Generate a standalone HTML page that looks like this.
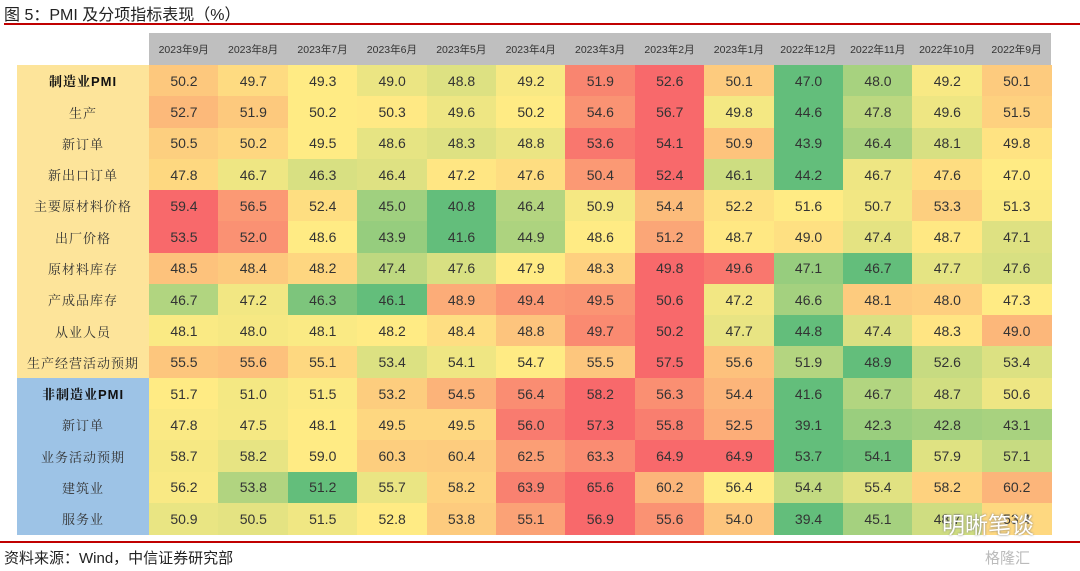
<!DOCTYPE html>
<html><head><meta charset="utf-8">
<style>
body{margin:0;width:1080px;height:571px;background:#fff;position:relative;overflow:hidden;font-family:"Liberation Sans","Noto Sans CJK SC",sans-serif;}
.a{position:absolute;}
.c{position:absolute;display:flex;align-items:center;justify-content:center;font-size:14px;color:#333;}
.h{font-size:10.5px;color:#333;}
.l{font-family:"Liberation Sans","Noto Serif CJK SC",serif;font-size:13px;color:#333;letter-spacing:1px;}
.b{font-weight:bold;color:#111;}
</style></head><body>
<div class="a" style="left:4px;top:1px;font-size:16px;color:#222;">图 5：PMI 及分项指标表现（%）</div>
<div class="a" style="left:4px;top:23px;width:1076px;height:1.5px;background:#c00000;"></div>
<div class="a" style="left:149px;top:33px;width:902px;height:32px;background:#bfbfbf;"></div>
<div id="t"></div>
<div class="a" style="left:0;top:541px;width:1080px;height:1.5px;background:#c00000;"></div>
<div class="a" style="left:4px;top:547px;font-size:15px;color:#222;">资料来源：Wind，中信证券研究部</div>
<div class="a" style="left:942px;top:506px;font-size:23px;color:#fff;text-shadow:0 0 2px #777;">明晰笔谈</div>
<div class="a" style="left:985px;top:547px;font-size:15px;color:#bbb;">格隆汇</div>
<script>
var cols=["2023年9月","2023年8月","2023年7月","2023年6月","2023年5月","2023年4月","2023年3月","2023年2月","2023年1月","2022年12月","2022年11月","2022年10月","2022年9月"];
var rows=[
["制造业PMI",1,0,[50.2,49.7,49.3,49.0,48.8,49.2,51.9,52.6,50.1,47.0,48.0,49.2,50.1]],
["生产",0,0,[52.7,51.9,50.2,50.3,49.6,50.2,54.6,56.7,49.8,44.6,47.8,49.6,51.5]],
["新订单",0,0,[50.5,50.2,49.5,48.6,48.3,48.8,53.6,54.1,50.9,43.9,46.4,48.1,49.8]],
["新出口订单",0,0,[47.8,46.7,46.3,46.4,47.2,47.6,50.4,52.4,46.1,44.2,46.7,47.6,47.0]],
["主要原材料价格",0,0,[59.4,56.5,52.4,45.0,40.8,46.4,50.9,54.4,52.2,51.6,50.7,53.3,51.3]],
["出厂价格",0,0,[53.5,52.0,48.6,43.9,41.6,44.9,48.6,51.2,48.7,49.0,47.4,48.7,47.1]],
["原材料库存",0,0,[48.5,48.4,48.2,47.4,47.6,47.9,48.3,49.8,49.6,47.1,46.7,47.7,47.6]],
["产成品库存",0,0,[46.7,47.2,46.3,46.1,48.9,49.4,49.5,50.6,47.2,46.6,48.1,48.0,47.3]],
["从业人员",0,0,[48.1,48.0,48.1,48.2,48.4,48.8,49.7,50.2,47.7,44.8,47.4,48.3,49.0]],
["生产经营活动预期",0,0,[55.5,55.6,55.1,53.4,54.1,54.7,55.5,57.5,55.6,51.9,48.9,52.6,53.4]],
["非制造业PMI",1,1,[51.7,51.0,51.5,53.2,54.5,56.4,58.2,56.3,54.4,41.6,46.7,48.7,50.6]],
["新订单",0,1,[47.8,47.5,48.1,49.5,49.5,56.0,57.3,55.8,52.5,39.1,42.3,42.8,43.1]],
["业务活动预期",0,1,[58.7,58.2,59.0,60.3,60.4,62.5,63.3,64.9,64.9,53.7,54.1,57.9,57.1]],
["建筑业",0,1,[56.2,53.8,51.2,55.7,58.2,63.9,65.6,60.2,56.4,54.4,55.4,58.2,60.2]],
["服务业",0,1,[50.9,50.5,51.5,52.8,53.8,55.1,56.9,55.6,54.0,39.4,45.1,48.7,53.4]]];
var G=[99,190,123],Y=[255,235,132],R=[248,105,107];
function mix(a,b,t){return 'rgb('+a.map(function(v,i){return Math.round(v+(b[i]-v)*t)}).join(',')+')';}
var h='',x0=149,cw=69.4,y0=65,rh=31.27;
cols.forEach(function(c,i){h+='<div class="c h" style="left:'+(x0+i*cw)+'px;top:33px;width:'+cw+'px;height:32px">'+c+'</div>';});
rows.forEach(function(r,j){
 var y=y0+j*rh,v=r[3],s=v.slice().sort(function(a,b){return a-b}),mn=s[0],mx=s[12],md=s[6];
 h+='<div class="c l'+(r[1]?' b':'')+'" style="left:17px;top:'+y+'px;width:132px;height:'+(rh+0.5)+'px;background:'+(r[2]?'#9dc3e6':'#fde49a')+'">'+r[0]+'</div>';
 v.forEach(function(x,i){
  var col=x<=md?mix(G,Y,(x-mn)/(md-mn||1)):mix(Y,R,(x-md)/(mx-md||1));
  h+='<div class="c" style="left:'+(x0+i*cw)+'px;top:'+y+'px;width:'+(cw+0.5)+'px;height:'+(rh+0.5)+'px;background:'+col+'">'+x.toFixed(1)+'</div>';
 });
});
document.getElementById('t').innerHTML=h;
</script>
</body></html>
